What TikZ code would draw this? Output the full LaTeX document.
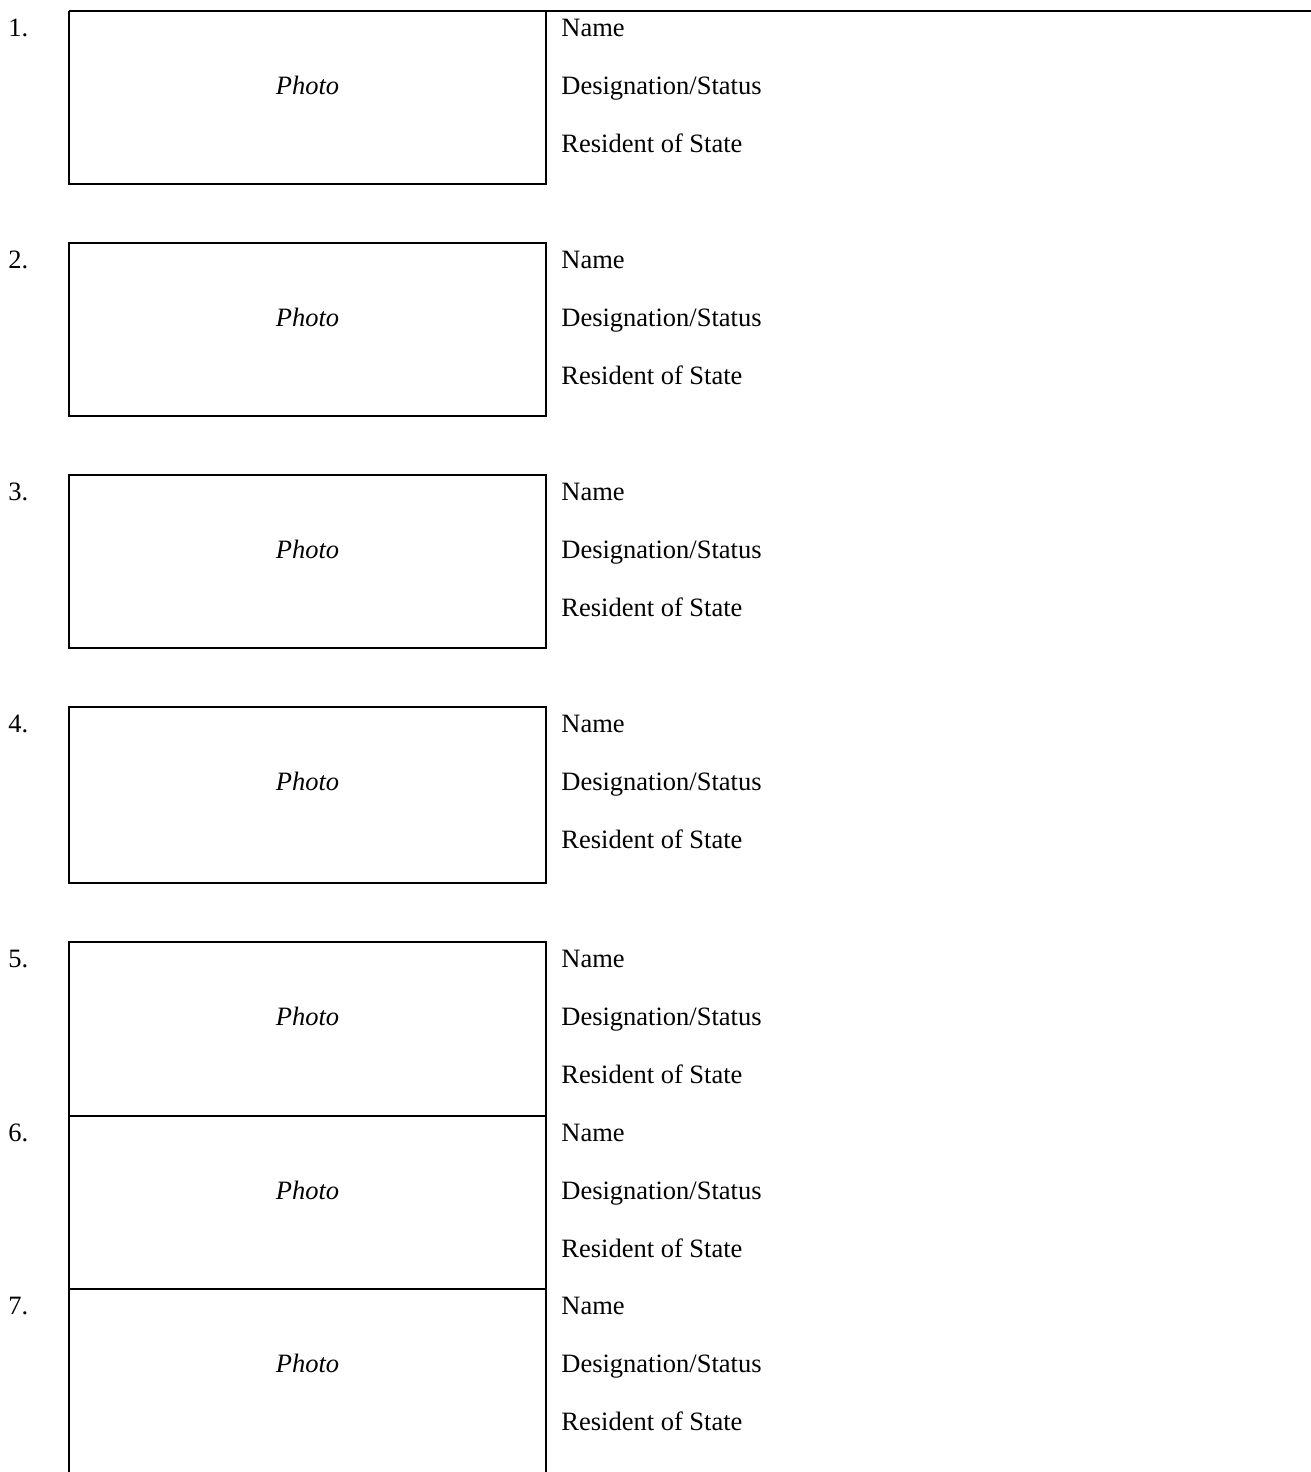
\documentclass[tikz,border=0pt]{standalone}
\usepackage{fontspec}
\setmainfont{Liberation Serif}
\begin{document}
\begin{tikzpicture}[x=0.5pt,y=-0.5pt,
  boxline/.style={line width=1.2pt},
  lbl/.style={anchor=base west,inner sep=0pt,font=\fontsize{13.25pt}{15pt}\selectfont},
  phototxt/.style={anchor=base,inner sep=0pt,font=\fontsize{13.25pt}{15pt}\selectfont\itshape}]
\useasboundingbox (0,0) rectangle (1311,1472);
% box outlines
\draw[boxline] (69,11) -- (1311,11);
\draw[boxline] (69,11) -- (69,184) -- (546,184) -- (546,11);
\draw[boxline] (69,243) rectangle (546,416);
\draw[boxline] (69,475) rectangle (546,648);
\draw[boxline] (69,707) rectangle (546,883);
\draw[boxline] (69,942) rectangle (546,1116);
\draw[boxline] (69,1116) rectangle (546,1289);
\draw[boxline] (69,1472) -- (69,1289) -- (546,1289) -- (546,1472);
% labels
\foreach \i/\t in {1/11,2/243,3/475,4/707,5/942,6/1116,7/1289}{
  \node[lbl] (num\i) at (8,\t+25) {\i.};
  \node[phototxt] (photo\i) at (307.5,\t+83) {Photo};
  \node[lbl] (name\i) at (561,\t+25) {Name};
  \node[lbl] (desig\i) at (561,\t+83) {Designation/Status};
  \node[lbl] (res\i) at (561,\t+141) {Resident of State};
}
\end{tikzpicture}
\end{document}
